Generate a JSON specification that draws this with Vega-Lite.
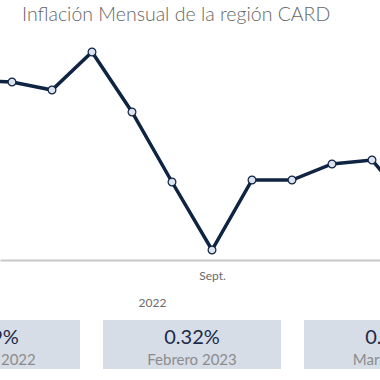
{
  "$schema": "https://vega.github.io/schema/vega-lite/v6.json",
  "padding": {"top": 4, "left": 0, "right": 0, "bottom": 0},
  "spacing": 12,
  "background": "white",
  "config": {"view": {"stroke": null}, "font": "Lato"},
  "vconcat": [
    {
      "title": {"text": "Inflación Mensual de la región CARD", "anchor": "start", "dx": 22, "fontSize": 19.5, "font": "Lato", "fontWeight": 300, "color": "#666666", "offset": 5},
      "width": 380,
      "height": 230,
      "data": {"values": [
        {"n": -1, "mes": "Marzo 2022", "v": 0.96},
        {"n": 0, "mes": "Abril 2022", "v": 0.95},
        {"n": 1, "mes": "Mayo 2022", "v": 0.91},
        {"n": 2, "mes": "Junio 2022", "v": 1.10},
        {"n": 3, "mes": "Julio 2022", "v": 0.80},
        {"n": 4, "mes": "Agosto 2022", "v": 0.45},
        {"n": 5, "mes": "Septiembre 2022", "v": 0.11},
        {"n": 6, "mes": "Octubre 2022", "v": 0.46},
        {"n": 7, "mes": "Noviembre 2022", "v": 0.46},
        {"n": 8, "mes": "Diciembre 2022", "v": 0.54},
        {"n": 9, "mes": "Enero 2023", "v": 0.56},
        {"n": 10, "mes": "Febrero 2023", "v": 0.32}
      ]},
      "encoding": {
        "x": {"field": "n", "type": "quantitative",
          "scale": {"domain": [-0.3, 9.2], "nice": false, "zero": false},
          "axis": {"values": [5], "labelExpr": "datum.value == 5 ? 'Sept.' : ''", "ticks": false, "grid": false,
            "domainColor": "#c8c8c8", "domainWidth": 2, "labelFont": "Lato", "labelFontSize": 12, "labelColor": "#6a6a6a", "labelPadding": 10,
            "title": "2022", "titleX": 152, "titleY": 42, "titleAlign": "center", "titleBaseline": "middle", "titleFont": "Lato", "titleFontSize": 12, "titleFontWeight": "normal", "titleColor": "#6a6a6a"}},
        "y": {"field": "v", "type": "quantitative",
          "scale": {"domain": [0.06, 1.21], "nice": false, "zero": false},
          "axis": null}
      },
      "layer": [
        {"mark": {"type": "line", "color": "#0f2342", "strokeWidth": 3.5, "clip": true}},
        {"mark": {"type": "point", "filled": true, "fill": "#dde4ef", "stroke": "#0f2342", "strokeWidth": 1.2, "size": 60, "opacity": 1, "clip": true}}
      ]
    },
    {
      "width": 380,
      "height": 49,
      "data": {"values": [
        {"mes": "Febrero 2022", "valor": "0.79%"},
        {"mes": "Febrero 2023", "valor": "0.32%"},
        {"mes": "Marzo 2023", "valor": "0.41%"}
      ]},
      "encoding": {
        "x": {"field": "mes", "type": "nominal",
          "scale": {"type": "band", "domain": ["Febrero 2022", "Febrero 2023", "Marzo 2023"], "range": [-109.5, 493.5], "paddingInner": 0.1144, "paddingOuter": 0.0572},
          "axis": null}
      },
      "layer": [
        {"mark": {"type": "rect", "color": "#d6dde7", "clip": true}},
        {"mark": {"type": "text", "font": "Lato", "fontSize": 20, "color": "#1b2a47", "dy": -7, "clip": true}, "encoding": {"text": {"field": "valor"}}},
        {"mark": {"type": "text", "font": "Lato", "fontSize": 15, "color": "#8c8c8c", "dy": 15, "clip": true}, "encoding": {"text": {"field": "mes"}}}
      ]
    }
  ]
}
